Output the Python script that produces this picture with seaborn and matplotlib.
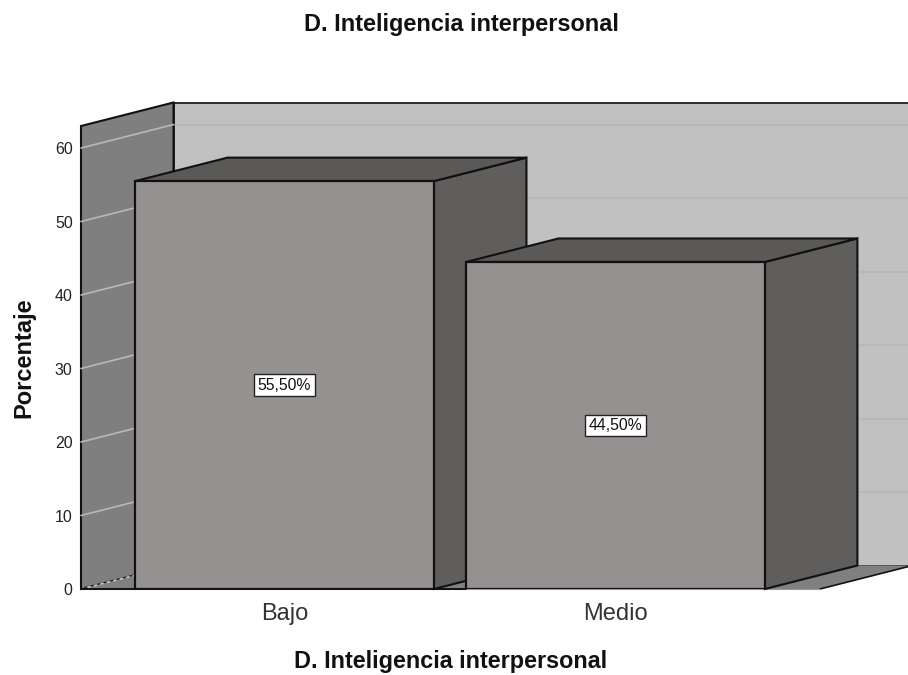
import matplotlib
matplotlib.use('Agg')
import matplotlib.pyplot as plt
import pandas as pd
import seaborn as sns
from matplotlib.patches import Polygon

categories = ['Bajo', 'Medio']
percent = [55.5, 44.5]
bar_labels = ['55,50%', '44,50%']
y_ticks = [0, 10, 20, 30, 40, 50, 60]
chart_title = 'D. Inteligencia interpersonal'

# figure size in pixels and the front plane of the fake 3D box
W, H = 908, 675
left, right, bottom, top = 81, 820, 589, 126
depth_px = (92.5, 23.5)

sns.set_theme(style='white')
plt.rcParams['font.family'] = ['Liberation Sans', 'DejaVu Sans']

fig = plt.figure(figsize=(W / 100, H / 100), dpi=100)
ax = fig.add_axes([left / W, 1 - bottom / H, (right - left) / W, (bottom - top) / H])
ax.patch.set_visible(False)

df = pd.DataFrame({'cat': categories, 'pct': percent})
sns.barplot(data=df, x='cat', y='pct', order=categories, color='#959190', saturation=1,
            width=0.903, edgecolor='#111111', linewidth=1.6, ax=ax)

# data limits, 331 px between categories and 7.35 px per percent
ax.set_xlim(-0.615, 1.618)
ax.set_ylim(0, 63)
x0, x1 = ax.get_xlim()
y0, y1 = ax.get_ylim()
dx = depth_px[0] * (x1 - x0) / (right - left)
dy = depth_px[1] * (y1 - y0) / (bottom - top)


def face(points, color, z, edge='#111111', lw=1.5):
    ax.add_patch(Polygon(points, closed=True, facecolor=color, edgecolor=edge,
                         linewidth=lw, zorder=z, clip_on=False, joinstyle='miter'))


# walls and floor
face([(x0 + dx, y0 + dy), (x1 + dx, y0 + dy), (x1 + dx, y1 + dy), (x0 + dx, y1 + dy)], '#c1c1c1', 0.1, lw=1.2)
face([(x0, y0), (x0 + dx, y0 + dy), (x0 + dx, y1 + dy), (x0, y1)], '#7f7f7f', 0.2)
ax.add_patch(Polygon([(x0, y0), (x1, y0), (x1 + dx, y0 + dy), (x0 + dx, y0 + dy)], closed=True,
                     facecolor='#808080', edgecolor='none', zorder=0.3, clip_on=False))
ax.plot([x1, x1 + dx], [y0, y0 + dy], color='#111111', lw=1.2, zorder=0.4, clip_on=False)
ax.plot([x0, x1], [y0, y0], color='#999999', lw=0.8, zorder=0.4, clip_on=False)
ax.plot([x0, ax.patches[1].get_x()], [y0, y0], color='#111111', lw=1.4, zorder=0.45, clip_on=False)
ax.plot([x0, x0 + 0.6 * dx], [y0, y0 + 0.6 * dy], color='#c8c8c8', lw=1.2, ls=(0, (2, 2)), zorder=0.4)

# grid lines on the walls
for t in y_ticks[1:]:
    ax.plot([x0, x0 + dx], [t, t + dy], color='#b8b8b8', lw=1.2, zorder=0.35, clip_on=False)
    ax.plot([x0 + dx, x1 + dx], [t + dy, t + dy], color='#b8b8b8', lw=1.5, zorder=0.15, clip_on=False)

# depth of each bar, drawn from the bars seaborn made
for i, bar in enumerate(ax.patches[:len(categories)]):
    bx, bw, bh = bar.get_x(), bar.get_width(), bar.get_height()
    base = 2 + 2 * i
    face([(bx + bw, 0), (bx + bw + dx, dy), (bx + bw + dx, bh + dy), (bx + bw, bh)], '#5f5e5c', base)
    face([(bx, bh), (bx + bw, bh), (bx + bw + dx, bh + dy), (bx + dx, bh + dy)], '#5a5957', base)
    bar.set_zorder(base + 1)
    ax.text(bx + bw / 2, bh / 2, bar_labels[i], ha='center', va='center', fontsize=11.3, color='#111111',
            zorder=base + 1.5,
            bbox=dict(boxstyle='square,pad=0.22', facecolor='white', edgecolor='#222222', linewidth=1))

ax.set_yticks(y_ticks)
ax.set_xticks(range(len(categories)))
ax.set_xticklabels(categories)
ax.tick_params(axis='x', length=0, labelsize=17, pad=10, labelcolor='#333333')
ax.tick_params(axis='y', length=0, labelsize=11.5, pad=6, labelcolor='#222222')
sns.despine(ax=ax, left=True, bottom=True)

ax.set_xlabel(chart_title, fontsize=16.8, fontweight='bold', color='#111111', labelpad=18)
ax.set_ylabel('Porcentaje', fontsize=17, fontweight='bold', color='#111111', labelpad=14)
fig.text(461.5 / W, 1 - 24 / H, chart_title, ha='center', va='center', fontsize=16.9,
         fontweight='bold', color='#111111')

fig.savefig('out.png', dpi=100)
